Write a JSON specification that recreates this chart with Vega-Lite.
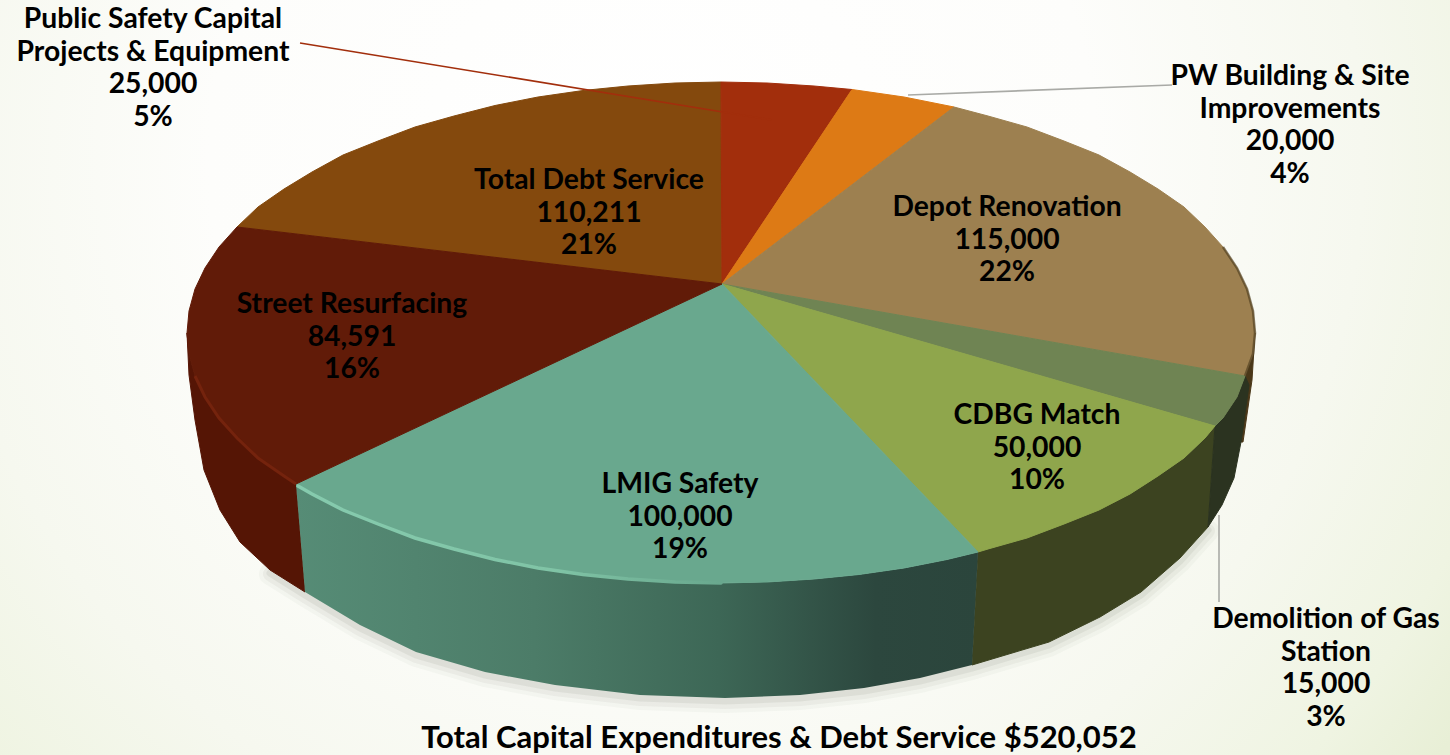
{
"$schema":"https://vega.github.io/schema/vega-lite/v6.json",
"width":1450,"height":755,"padding":0,
"autosize":{"type":"fit","contains":"padding"},
"background":"#ffffff",
"view":{"stroke":null},
"datasets":{
"bg":[{"x":0,"x2":1450,"y":0,"y2":755}],
"shadow":[{"x":270,"y":570},{"x":305,"y":592},{"x":360,"y":625},{"x":416,"y":652},{"x":485,"y":672},{"x":555,"y":685},{"x":640,"y":695},{"x":725,"y":698},{"x":800,"y":695},{"x":864,"y":688},{"x":920,"y":678},{"x":972,"y":665},{"x":1049,"y":642},{"x":1100,"y":617},{"x":1141,"y":592},{"x":1180,"y":558},{"x":1208,"y":527}],
"sides":[
{"s":"Street side","x":187,"y":333},{"s":"Street side","x":189,"y":354},{"s":"Street side","x":195,"y":376},{"s":"Street side","x":205,"y":397},{"s":"Street side","x":219,"y":418},{"s":"Street side","x":237,"y":438},{"s":"Street side","x":258,"y":458},{"s":"Street side","x":284,"y":476},{"s":"Street side","x":296,"y":484},{"s":"Street side","x":305,"y":592},{"s":"Street side","x":270,"y":570},{"s":"Street side","x":240,"y":542},{"s":"Street side","x":220,"y":510},{"s":"Street side","x":204,"y":470},{"s":"Street side","x":195,"y":420},{"s":"Street side","x":189,"y":375},{"s":"Street side","x":187,"y":333},
{"s":"CDBG side","x":978,"y":552},{"s":"CDBG side","x":988,"y":549},{"s":"CDBG side","x":1027,"y":538},{"s":"CDBG side","x":1064,"y":524},{"s":"CDBG side","x":1099,"y":510},{"s":"CDBG side","x":1130,"y":494},{"s":"CDBG side","x":1158,"y":476},{"s":"CDBG side","x":1184,"y":458},{"s":"CDBG side","x":1205,"y":438},{"s":"CDBG side","x":1215,"y":426},{"s":"CDBG side","x":1208,"y":527},{"s":"CDBG side","x":1180,"y":558},{"s":"CDBG side","x":1141,"y":592},{"s":"CDBG side","x":1100,"y":617},{"s":"CDBG side","x":1049,"y":642},{"s":"CDBG side","x":972,"y":665},{"s":"CDBG side","x":978,"y":552},
{"s":"Depot side","x":1255,"y":333},{"s":"Depot side","x":1252,"y":380},{"s":"Depot side","x":1243,"y":442},{"s":"Depot side","x":1236,"y":442},{"s":"Depot side","x":1245,"y":376},{"s":"Depot side","x":1255,"y":333},
{"s":"Demolition side","x":1215,"y":426},{"s":"Demolition side","x":1223,"y":418},{"s":"Demolition side","x":1237,"y":397},{"s":"Demolition side","x":1245,"y":376},{"s":"Demolition side","x":1249,"y":385},{"s":"Demolition side","x":1241,"y":442},{"s":"Demolition side","x":1234,"y":478},{"s":"Demolition side","x":1222,"y":505},{"s":"Demolition side","x":1208,"y":527},{"s":"Demolition side","x":1215,"y":426}
],
"lmigSide":[{"x":296,"y":484},{"x":312,"y":494},{"x":343,"y":510},{"x":378,"y":524},{"x":415,"y":538},{"x":454,"y":549},{"x":495,"y":559.5},{"x":538,"y":568},{"x":583,"y":574.5},{"x":628,"y":579},{"x":675,"y":582},{"x":721,"y":583},{"x":767,"y":582},{"x":814,"y":579},{"x":859,"y":574.5},{"x":904,"y":568},{"x":947,"y":559.5},{"x":978,"y":552},{"x":972,"y":665},{"x":920,"y":678},{"x":864,"y":688},{"x":800,"y":695},{"x":725,"y":698},{"x":640,"y":695},{"x":555,"y":685},{"x":485,"y":672},{"x":416,"y":652},{"x":360,"y":625},{"x":305,"y":592}],
"top":[
{"s":"Total Debt Service","x":722,"y":284},{"s":"Total Debt Service","x":237,"y":227},{"s":"Total Debt Service","x":258,"y":207},{"s":"Total Debt Service","x":284,"y":189},{"s":"Total Debt Service","x":312,"y":172},{"s":"Total Debt Service","x":343,"y":155},{"s":"Total Debt Service","x":378,"y":141},{"s":"Total Debt Service","x":415,"y":127},{"s":"Total Debt Service","x":454,"y":116},{"s":"Total Debt Service","x":495,"y":105.5},{"s":"Total Debt Service","x":538,"y":97},{"s":"Total Debt Service","x":583,"y":90.5},{"s":"Total Debt Service","x":628,"y":86},{"s":"Total Debt Service","x":675,"y":83},{"s":"Total Debt Service","x":721,"y":82},{"s":"Total Debt Service","x":722,"y":284},
{"s":"Public Safety","x":722,"y":284},{"s":"Public Safety","x":721,"y":82},{"s":"Public Safety","x":767,"y":83},{"s":"Public Safety","x":814,"y":86},{"s":"Public Safety","x":852,"y":89.5},{"s":"Public Safety","x":722,"y":284},
{"s":"PW Building","x":722,"y":284},{"s":"PW Building","x":852,"y":89.5},{"s":"PW Building","x":904,"y":97},{"s":"PW Building","x":954,"y":107},{"s":"PW Building","x":722,"y":284},
{"s":"Depot","x":722,"y":284},{"s":"Depot","x":954,"y":107},{"s":"Depot","x":988,"y":116},{"s":"Depot","x":1027,"y":127},{"s":"Depot","x":1064,"y":141},{"s":"Depot","x":1099,"y":155},{"s":"Depot","x":1130,"y":172},{"s":"Depot","x":1158,"y":189},{"s":"Depot","x":1184,"y":207},{"s":"Depot","x":1205,"y":227},{"s":"Depot","x":1223,"y":247},{"s":"Depot","x":1237,"y":268},{"s":"Depot","x":1247,"y":289},{"s":"Depot","x":1253,"y":311},{"s":"Depot","x":1255,"y":333},{"s":"Depot","x":1253,"y":354},{"s":"Depot","x":1245,"y":376},{"s":"Depot","x":722,"y":284},
{"s":"Demolition","x":722,"y":284},{"s":"Demolition","x":1245,"y":376},{"s":"Demolition","x":1237,"y":397},{"s":"Demolition","x":1223,"y":418},{"s":"Demolition","x":1215,"y":426},{"s":"Demolition","x":722,"y":284},
{"s":"CDBG","x":722,"y":284},{"s":"CDBG","x":1215,"y":426},{"s":"CDBG","x":1205,"y":438},{"s":"CDBG","x":1184,"y":458},{"s":"CDBG","x":1158,"y":476},{"s":"CDBG","x":1130,"y":494},{"s":"CDBG","x":1099,"y":510},{"s":"CDBG","x":1064,"y":524},{"s":"CDBG","x":1027,"y":538},{"s":"CDBG","x":988,"y":549},{"s":"CDBG","x":978,"y":552},{"s":"CDBG","x":722,"y":284},
{"s":"LMIG","x":722,"y":284},{"s":"LMIG","x":978,"y":552},{"s":"LMIG","x":947,"y":559.5},{"s":"LMIG","x":904,"y":568},{"s":"LMIG","x":859,"y":574.5},{"s":"LMIG","x":814,"y":579},{"s":"LMIG","x":767,"y":582},{"s":"LMIG","x":721,"y":583},{"s":"LMIG","x":675,"y":582},{"s":"LMIG","x":628,"y":579},{"s":"LMIG","x":583,"y":574.5},{"s":"LMIG","x":538,"y":568},{"s":"LMIG","x":495,"y":559.5},{"s":"LMIG","x":454,"y":549},{"s":"LMIG","x":415,"y":538},{"s":"LMIG","x":378,"y":524},{"s":"LMIG","x":343,"y":510},{"s":"LMIG","x":312,"y":494},{"s":"LMIG","x":296,"y":484},{"s":"LMIG","x":722,"y":284},
{"s":"Street","x":722,"y":284},{"s":"Street","x":296,"y":484},{"s":"Street","x":284,"y":476},{"s":"Street","x":258,"y":458},{"s":"Street","x":237,"y":438},{"s":"Street","x":219,"y":418},{"s":"Street","x":205,"y":397},{"s":"Street","x":195,"y":376},{"s":"Street","x":189,"y":354},{"s":"Street","x":187,"y":333},{"s":"Street","x":189,"y":311},{"s":"Street","x":195,"y":289},{"s":"Street","x":205,"y":268},{"s":"Street","x":219,"y":247},{"s":"Street","x":237,"y":227},{"s":"Street","x":722,"y":284}
],
"lmigEdge":[{"x":298,"y":486},{"x":312,"y":494},{"x":343,"y":510},{"x":378,"y":524},{"x":415,"y":538},{"x":454,"y":549},{"x":495,"y":559.5},{"x":538,"y":568},{"x":583,"y":574.5},{"x":628,"y":579},{"x":675,"y":582},{"x":721,"y":583}],
"streetEdge":[{"x":195,"y":376},{"x":205,"y":397},{"x":219,"y":418},{"x":237,"y":438},{"x":258,"y":458},{"x":284,"y":476},{"x":296,"y":484}],
"depotEdge":[{"x":1223,"y":247},{"x":1237,"y":268},{"x":1247,"y":289},{"x":1253,"y":311},{"x":1255,"y":333},{"x":1253,"y":354},{"x":1245,"y":376}],
"leaders":[
{"s":"Public Safety","x":300,"y":43},{"s":"Public Safety","x":772,"y":120},
{"s":"PW Building","x":908,"y":95},{"s":"PW Building","x":1172,"y":85},
{"s":"Demolition","x":1219,"y":515},{"s":"Demolition","x":1219,"y":602}
],
"labels":[
{"label":"Public Safety Capital\nProjects & Equipment\n25,000\n5%","x":153,"y":20},
{"label":"PW Building & Site\nImprovements\n20,000\n4%","x":1290,"y":77},
{"label":"Depot Renovation\n115,000\n22%","x":1007,"y":208},
{"label":"Demolition of Gas\nStation\n15,000\n3%","x":1326,"y":620},
{"label":"CDBG Match\n50,000\n10%","x":1037,"y":416},
{"label":"LMIG Safety\n100,000\n19%","x":680,"y":485},
{"label":"Street Resurfacing\n84,591\n16%","x":352,"y":305},
{"label":"Total Debt Service\n110,211\n21%","x":589,"y":181}
],
"titleText":[{"label":"Total Capital Expenditures  & Debt Service $520,052","x":779,"y":739}]
},
"encoding":{
"x":{"field":"x","type":"quantitative","scale":{"domain":[0,1450],"nice":false,"zero":false},"axis":null},
"y":{"field":"y","type":"quantitative","scale":{"domain":[0,755],"reverse":true,"nice":false,"zero":false},"axis":null}
},
"resolve":{"scale":{"fill":"independent","stroke":"independent"}},
"layer":[
{"data":{"name":"bg"},"mark":{"type":"rect","fill":{"gradient":"radial","x1":0.45,"y1":0.35,"r1":0,"x2":0.45,"y2":0.35,"r2":0.68,"stops":[{"offset":0,"color":"#ffffff"},{"offset":0.45,"color":"#fdfdfb"},{"offset":0.72,"color":"#f6f8ef"},{"offset":0.9,"color":"#eff4e2"},{"offset":1,"color":"#e8efd6"}]}},
 "encoding":{"x2":{"field":"x2"},"y2":{"field":"y2"}}},
{"data":{"name":"shadow"},"mark":{"type":"line","stroke":"#8f9488","strokeWidth":22,"opacity":0.06,"yOffset":4,"strokeCap":"round"},"encoding":{"order":{"value":null}}},
{"data":{"name":"shadow"},"mark":{"type":"line","stroke":"#8f9488","strokeWidth":14,"opacity":0.09,"yOffset":4,"strokeCap":"round"},"encoding":{"order":{"value":null}}},
{"data":{"name":"shadow"},"mark":{"type":"line","stroke":"#8f9488","strokeWidth":7,"opacity":0.14,"yOffset":3,"strokeCap":"round"},"encoding":{"order":{"value":null}}},
{"data":{"name":"sides"},"mark":{"type":"line","strokeWidth":1},
 "encoding":{"order":{"value":null},
 "fill":{"field":"s","type":"nominal","legend":null,"scale":{"domain":["Street side","CDBG side","Depot side","Demolition side"],"range":["#551505","#3c4320","#4a3718","#2b3320"]}},
 "stroke":{"field":"s","type":"nominal","legend":null,"scale":{"domain":["Street side","CDBG side","Depot side","Demolition side"],"range":["#551505","#3c4320","#4a3718","#2b3320"]}}}},
{"data":{"name":"lmigSide"},"mark":{"type":"line","stroke":null,"fill":{"gradient":"linear","x1":0,"y1":0,"x2":1,"y2":0,"stops":[{"offset":0,"color":"#568c76"},{"offset":0.35,"color":"#4c7c68"},{"offset":0.62,"color":"#3d6756"},{"offset":0.85,"color":"#2c473e"},{"offset":1,"color":"#2b453c"}]}},"encoding":{"order":{"value":null}}},
{"data":{"name":"top"},"mark":{"type":"line","strokeWidth":1},
 "encoding":{"order":{"value":null},
 "fill":{"field":"s","type":"nominal","legend":null,"scale":{"domain":["Total Debt Service","Public Safety","PW Building","Depot","Demolition","CDBG","LMIG","Street"],"range":["#84490d","#a22e0c","#dd7a15","#9d8050","#6f8453","#8fa64c","#69a88e","#611b08"]}},
 "stroke":{"field":"s","type":"nominal","legend":null,"scale":{"domain":["Total Debt Service","Public Safety","PW Building","Depot","Demolition","CDBG","LMIG","Street"],"range":["#84490d","#a22e0c","#dd7a15","#9d8050","#6f8453","#8fa64c","#69a88e","#611b08"]}}}},
{"data":{"name":"lmigEdge"},"mark":{"type":"line","strokeWidth":3.5,"strokeCap":"round","stroke":{"gradient":"linear","x1":0,"y1":0,"x2":1,"y2":0,"stops":[{"offset":0,"color":"#86cbae"},{"offset":0.6,"color":"#80c4a6"},{"offset":1,"color":"#69a88e"}]}},"encoding":{"order":{"value":null}}},
{"data":{"name":"streetEdge"},"mark":{"type":"line","strokeWidth":3,"stroke":"#74230d"},"encoding":{"order":{"value":null}}},
{"data":{"name":"depotEdge"},"mark":{"type":"line","strokeWidth":2.5,"stroke":"#4f3d1e","opacity":0.65},"encoding":{"order":{"value":null}}},
{"data":{"name":"leaders"},"mark":{"type":"line","strokeWidth":1.6},
 "encoding":{"order":{"value":null},"detail":{"field":"s"},
 "color":{"field":"s","type":"nominal","legend":null,"scale":{"domain":["Public Safety","PW Building","Demolition"],"range":["#a22e0c","#a9aaa6","#a9aaa6"]}}}},
{"data":{"name":"labels"},"mark":{"type":"text","font":"Lato","fontWeight":"bold","fontSize":28.3,"lineHeight":32.5,"lineBreak":"\n","align":"center","baseline":"middle","color":"#000000"},
 "encoding":{"text":{"field":"label"}}},
{"data":{"name":"titleText"},"mark":{"type":"text","font":"Lato","fontWeight":"bold","fontSize":31,"align":"center","baseline":"middle","color":"#000000"},
 "encoding":{"text":{"field":"label"}}}
]
}
